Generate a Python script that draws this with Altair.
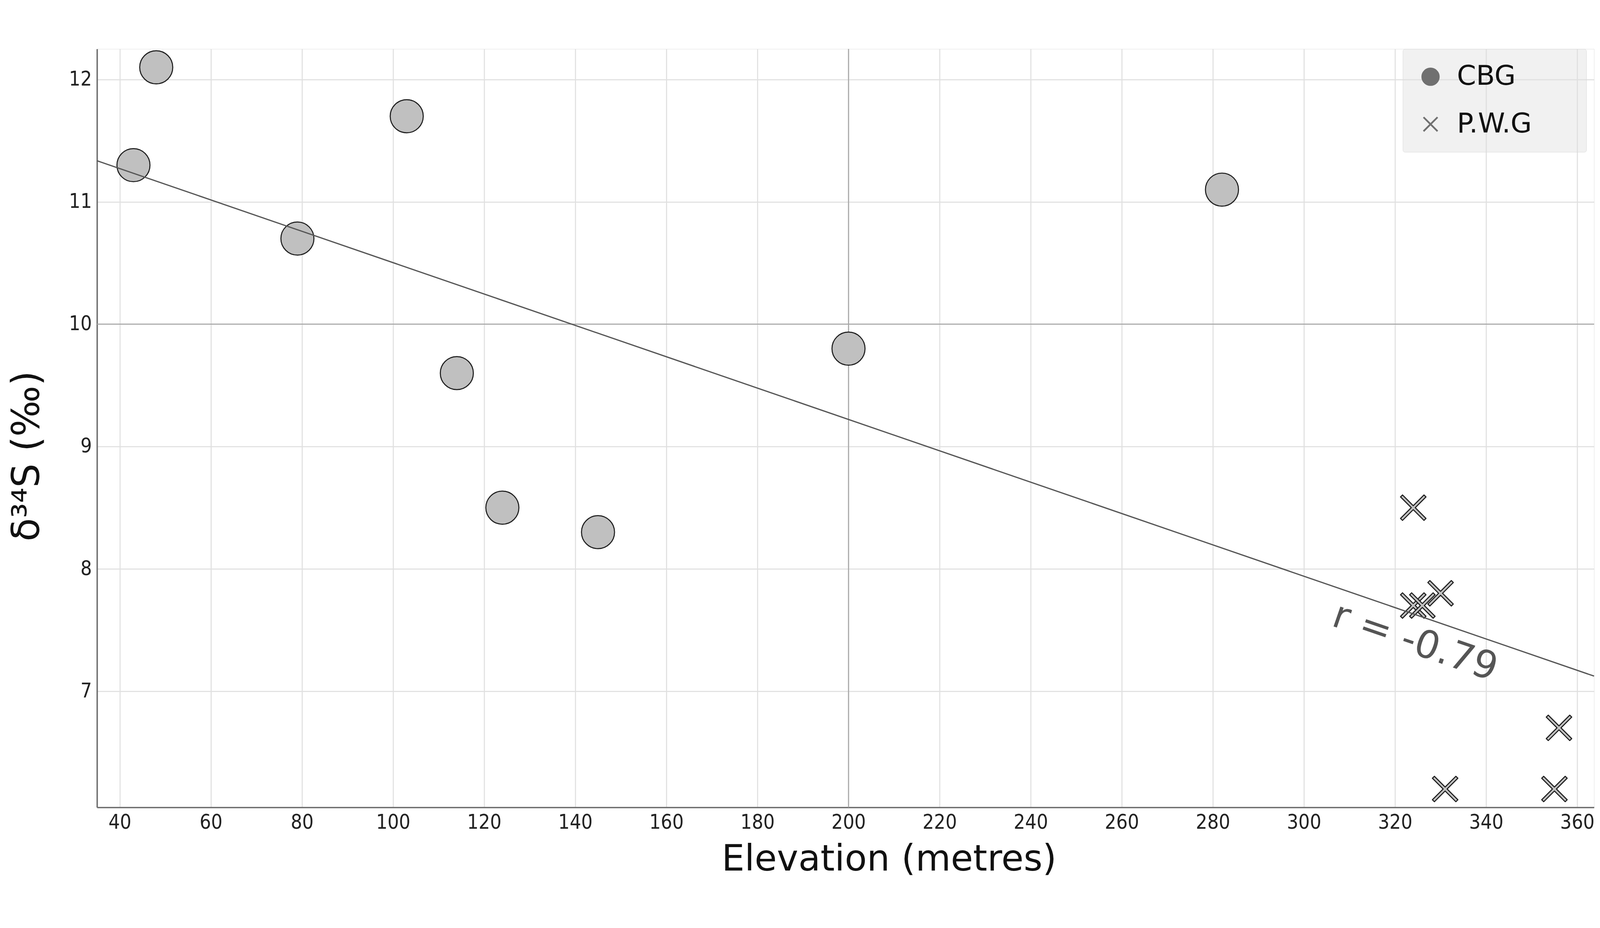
import altair as alt
import pandas as pd

# ---- data ----
cbg_elev = [43, 48, 79, 103, 114, 124, 145, 200, 282]
cbg_d34s = [11.3, 12.1, 10.7, 11.7, 9.6, 8.5, 8.3, 9.8, 11.1]
pwg_elev = [324, 324, 326, 330, 331, 355, 356]
pwg_d34s = [8.5, 7.7, 7.7, 7.8, 6.2, 6.2, 6.7]
groups = ["CBG", "P.W.G"]
x_ticks = list(range(40, 361, 20))
y_ticks = [7, 8, 9, 10, 11, 12]
r_label = ["r = -0.79"]
r_pos_x = [324.4]
r_pos_y = [7.40]
ref_x = [200]
ref_y = [10]

BLANK = "\u2800"  # blank glyph (not trimmed) used only as spacing in legend labels

df = pd.DataFrame({
    "elev": cbg_elev + pwg_elev,
    "d34s": cbg_d34s + pwg_d34s,
    "group": ["CBG"] * len(cbg_elev) + ["P.W.G"] * len(pwg_elev),
})
ann = pd.DataFrame({"elev": r_pos_x, "d34s": r_pos_y, "label": r_label})

# outlined "X" marker (polygon) and a thin "x" for the legend
a, d = 0.77, 0.12
pts = [(-a + d, -a), (0, -d), (a - d, -a), (a, -a + d), (d, 0), (a, a - d),
       (a - d, a), (0, d), (-a + d, a), (-a, a - d), (-d, 0), (-a, -a + d)]
X_PATH = "M" + "L".join(f"{px:.3f},{py:.3f}" for px, py in pts) + "Z"
X_THIN = "M-0.85,-0.85L0.85,0.85M-0.85,0.85L0.85,-0.85"

XDOM = [35, 363.7]
YDOM = [6.05, 12.25]
W, H = 4257, 2156

x_enc = alt.X(
    "elev:Q",
    scale=alt.Scale(domain=XDOM, nice=False, zero=False),
    axis=alt.Axis(
        values=x_ticks, format="d", title="Elevation (metres)", titleFontSize=103,
        titleFont="DejaVu Sans", titleFontWeight="normal", titleColor="#111",
        titlePadding=27, titleX=2252, labelFontSize=57,
        labelFont="DejaVu Sans Condensed, DejaVu Sans", labelColor="#222",
        labelPadding=15, labelFlush=False, ticks=False,
        domainColor="#6e6e6e", domainWidth=4, gridColor="#e0e0e0", gridWidth=3,
    ),
)
y_enc = alt.Y(
    "d34s:Q",
    scale=alt.Scale(domain=YDOM, nice=False, zero=False),
    axis=alt.Axis(
        values=y_ticks, format="d", title="δ³⁴S (‰)", titleFontSize=108,
        titleFont="DejaVu Sans", titleFontWeight="normal", titleColor="#111",
        titlePadding=62, titleY=1157, labelFontSize=57,
        labelFont="DejaVu Sans Condensed, DejaVu Sans", labelColor="#222",
        labelPadding=15, labelFlush=False, ticks=False,
        domainColor="#6e6e6e", domainWidth=4, gridColor="#e0e0e0", gridWidth=3,
    ),
)

base = alt.Chart(df)

vrule = alt.Chart(pd.DataFrame({"elev": ref_x})).mark_rule(
    color="#a8a8a8", strokeWidth=3).encode(x=alt.X("elev:Q"))
hrule = alt.Chart(pd.DataFrame({"d34s": ref_y})).mark_rule(
    color="#a8a8a8", strokeWidth=3).encode(y=alt.Y("d34s:Q"))

points = base.mark_point(
    filled=True, fill="#c0c0c0", stroke="#1e1e1e", strokeWidth=3,
    opacity=1, size=8836, strokeJoin="round",
).encode(
    x=x_enc, y=y_enc,
    shape=alt.Shape("group:N", scale=alt.Scale(domain=groups, range=["circle", X_PATH]),
                    legend=None),
)

legend_layer = base.transform_filter("false").mark_point(
    filled=True, fill="#707070", stroke="#707070", strokeWidth=5, opacity=1, size=2200,
).encode(
    x="elev:Q", y="d34s:Q",
    shape=alt.Shape(
        "group:N",
        scale=alt.Scale(domain=groups, range=["circle", X_THIN]),
        legend=alt.Legend(
            title=None, orient="none", legendX=3713, legendY=0,
            fillColor="rgba(222,222,222,0.42)", strokeColor="#dadada", cornerRadius=6,
            padding=40, labelFont="DejaVu Sans", labelFontSize=78, labelColor="#111",
            labelLimit=2000,
            labelExpr="datum.label + '" + BLANK * 2 + "'",
            labelOffset=36, rowPadding=57, symbolSize=2200, symbolStrokeWidth=5,
            symbolOpacity=1,
        ),
    ),
)

reg = base.transform_regression("elev", "d34s", extent=XDOM).mark_line(
    color="#555555", strokeWidth=3.5).encode(x="elev:Q", y="d34s:Q")

label = alt.Chart(ann).mark_text(
    angle=19, fontSize=109, font="DejaVu Sans", color="#555555",
    align="center", baseline="middle",
).encode(x="elev:Q", y="d34s:Q", text="label:N")

chart = alt.layer(vrule, hrule, points, legend_layer, reg, label).resolve_scale(
    shape="independent"
).properties(
    width=W, height=H,
    autosize=alt.AutoSizeParams(type="none"),
    padding={"left": 267, "top": 0, "right": 8, "bottom": 196},
).configure_view(stroke=None).configure(background="white")

chart.save("out.html", embed_options={"renderer": "svg", "actions": False})
